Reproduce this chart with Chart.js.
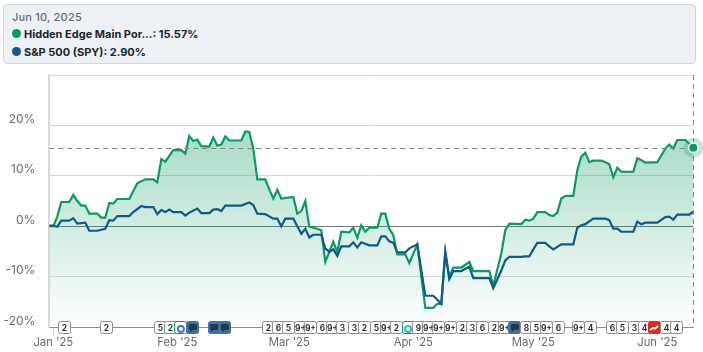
<!DOCTYPE html>
<html>
<head>
<meta charset="utf-8">
<script src="https://cdn.jsdelivr.net/npm/chart.js@4"></script>
<style>
  html,body{margin:0;padding:0;background:#fff;font-family:Inter,sans-serif}
  #wrap{position:relative;width:703px;height:352px;overflow:hidden}
  #head{position:absolute;left:3px;top:4px;width:691px;height:58px;background:#edf1f5;border:1px solid #cfd6dc;border-radius:4px}
  #head div{position:absolute;left:20px;font-size:11px;font-weight:700;color:#20262c;white-space:nowrap;line-height:14px}
  #head .date{left:8px;top:5px;font-size:11px;font-weight:500;color:#666c72;letter-spacing:.2px}
  #head i{position:absolute;left:-12px;top:2px;width:9px;height:9px;border-radius:50%}
</style>
</head>
<body>
<div id="wrap">
  <canvas id="chart"></canvas>
  <div id="head">
    <div class="date">Jun 10, 2025</div>
    <div style="top:22px"><i style="background:#0a9a62"></i>Hidden Edge Main Por...: 15.57%</div>
    <div style="top:40px"><i style="background:#11598a"></i>S&amp;P 500 (SPY): 2.90%</div>
  </div>
</div>
<script>
// values, x = days since Dec 31 2024
const fundDays = [0,1,2,3,5,6,7,8,9,10,12,13,14,15,16,17,20,22,24,26,27,28,29,31,33,34,35,36,37,38,40,41,42,43,44,45,48,49,50,51,52,54,55,56,57,58,61,62,63,64,65,67,68,69,71,72,73,75,76,77,78,79,80,82,83,84,85,86,87,89,90,92,94,96,97,98,99,100,101,103,105,106,110,111,113,114,115,118,119,120,121,122,124,125,126,127,128,129,131,132,133,134,135,136,138,139,140,141,142,143,146,147,148,149,152,154,155,156,157,159,161];
const fundVals = [0,0,1.9,4.8,4.8,6.2,5,4.1,4.1,2.5,2.5,1.7,1.7,4.6,4.5,5.4,5.4,8.5,9.3,9.3,8.7,13.3,12.8,15.1,15.1,14.4,17.9,16.9,17.2,15.9,15.8,17.6,16,16.2,17.8,17,17,18.8,18.7,15.4,9.3,9.3,7.3,5.5,7.2,5.5,5.8,2.5,3,5,-0.1,-0.5,-0.8,-7.1,-3.1,-5.1,-1.1,-1.2,-0.3,-2.3,0.2,-1.1,-0.3,-0.3,2.5,2.5,-0.5,-1.8,-5.6,-5.6,-7.3,-3.6,-16.2,-16.2,-15.4,-15.4,-5.1,-10.1,-8.2,-8.2,-7.1,-8.9,-8.9,-11.8,-5.4,-0.8,0.5,0.4,1.3,1.1,1.5,2.8,2.8,2.2,2,2.7,5.5,6,6,11.1,13.8,14.6,12.7,13,13,12.7,12.3,9.7,11.6,10.8,10.8,13.5,13.1,12.6,12.7,15.4,16.2,15.4,17.1,17.1,15.57];
const spyDays = [0,1,2,3,5,6,7,9,10,12,14,15,16,17,20,21,23,24,26,27,28,29,30,31,33,34,35,37,38,40,41,42,43,44,48,50,51,52,54,56,57,58,59,61,63,64,65,66,68,69,70,71,72,73,75,76,77,78,80,82,83,84,85,86,87,89,90,92,94,96,98,99,100,101,103,105,106,110,111,113,114,115,118,119,120,121,122,124,125,126,128,131,132,133,134,136,139,140,141,142,143,146,147,148,149,152,154,155,156,157,160,161];
const spyVals = [0.1,0.1,-0.1,1.1,1.1,1.6,0.5,0.7,-0.9,-0.9,-0.5,1.2,1.1,2,2,2.8,4,3.8,3.8,2.4,3.2,2.8,3.3,2.8,2.8,2.1,2.7,3.5,2.6,2.6,3.3,3.4,3,4.1,4.1,4.7,4.2,2.5,2.4,1.5,1.5,0,1.5,1.5,-1.5,-0.5,-2.2,-1.7,-1.7,-4.4,-5.1,-4.6,-5.9,-4,-4,-3.2,-4.2,-3.2,-3.8,-3.8,-2,-2,-3,-3.3,-5.2,-5.2,-4.4,-3.6,-13.8,-13.8,-15.4,-5.1,-10.5,-8.9,-8.9,-8,-10.3,-10.3,-12.3,-8.8,-6.8,-6.1,-6.1,-6,-6,-4.6,-3.3,-3.3,-4,-4.6,-3.6,-3.6,-0.3,0.2,0.4,1.5,1.5,1.2,-0.5,-0.5,-1.1,-1.1,0.9,0.4,0.7,0.7,1.8,1.9,1.3,2.3,2.3,2.9];
const monthDays = [1,32,60,91,121,152];
const monthLabels = ["Jan '25","Feb '25","Mar '25","Apr '25","May '25","Jun '25"];
const eventDays = [3.7,14.4,27.9,30.4,32.9,35.9,41.2,43.9,54.7,57.4,59.9,62.7,65.4,68.2,70.7,73.4,76.2,78.9,81.7,84.2,86.9,89.7,92.4,94.9,97.4,100.2,103.2,105.9,108.4,111.2,113.7,116.4,119.2,121.9,124.4,127.4,132.4,135.4,140.7,143.4,146.2,148.9,151.2,154.2,156.9];
const eventLabels = ['2','2','5','2','ring','chat','chat','chat','2','6','5','9+','9+','6','9+','3','3','2','5','9+','2','ringteal','9','9+','9+','9+','2','3','6','2','9+','chat','8','5','9+','6','9+','4','6','5','3','4','red','4','4'];
const lastDay = 161, lastFund = 15.57;

const GREEN = '#0a9a62', BLUE = '#11598a';

function xy(days, vals){ return days.map((d,i)=>({x:d,y:vals[i]})); }

function drawBox(ctx, px, y, label){
  const w = 13, h = 13, x = Math.round(px - w/2);
  let fill = '#fff', stroke = '#8b8b8b';
  if (label==='chat'){ fill = '#41719f'; stroke = '#41719f'; }
  if (label==='red'){ fill = '#e2281b'; stroke = '#e2281b'; }
  if (label==='ring' || label==='ringteal'){ stroke = GREEN; }
  ctx.beginPath();
  ctx.roundRect(x+.5, y+.5, w-1, h-1, 2);
  ctx.fillStyle = fill; ctx.fill();
  ctx.lineWidth = 1; ctx.strokeStyle = stroke; ctx.stroke();
  if (label==='chat'){
    ctx.fillStyle = '#24384c';
    ctx.beginPath();
    ctx.roundRect(px-4, y+3, 8, 6, 1);
    ctx.moveTo(px-3, y+9); ctx.lineTo(px-3, y+11); ctx.lineTo(px, y+9);
    ctx.fill();
  } else if (label==='red'){
    ctx.strokeStyle = '#fff'; ctx.lineWidth = 2;
    ctx.beginPath();
    ctx.moveTo(px-4, y+9); ctx.lineTo(px-1, y+7); ctx.lineTo(px+1, y+7.5); ctx.lineTo(px+4, y+5);
    ctx.stroke();
  } else if (label==='ring' || label==='ringteal'){
    ctx.strokeStyle = label==='ring' ? '#3f74d8' : '#35b7c4'; ctx.lineWidth = 2;
    ctx.beginPath(); ctx.arc(px, y+8, 3, 0, Math.PI*2); ctx.stroke();
  } else {
    ctx.fillStyle = '#222'; ctx.font = '600 8.5px Inter';
    ctx.textAlign = 'center'; ctx.textBaseline = 'middle';
    ctx.fillText(label, x+6.5, y+7);
  }
}

const overlay = {
  id:'overlay',
  afterDatasetsDraw(chart){
    const {ctx, chartArea:a, scales:{x,y}} = chart;
    const px = x.getPixelForValue(lastDay), py = y.getPixelForValue(lastFund);
    ctx.save();
    // crosshair
    ctx.strokeStyle = '#858585'; ctx.lineWidth = 1; ctx.setLineDash([5,4]);
    ctx.beginPath(); ctx.moveTo(a.left, Math.round(py)+.5); ctx.lineTo(a.right, Math.round(py)+.5); ctx.stroke();
    ctx.beginPath(); ctx.moveTo(Math.round(px)+.5, a.top); ctx.lineTo(Math.round(px)+.5, a.bottom); ctx.stroke();
    ctx.setLineDash([]);
    // end marker
    ctx.fillStyle = 'rgba(10,154,98,.25)';
    ctx.beginPath(); ctx.arc(px, py, 10, 0, Math.PI*2); ctx.fill();
    ctx.fillStyle = '#fff';
    ctx.beginPath(); ctx.arc(px, py, 5.5, 0, Math.PI*2); ctx.fill();
    ctx.fillStyle = GREEN;
    ctx.beginPath(); ctx.arc(px, py, 4, 0, Math.PI*2); ctx.fill();
    // event flags on the axis
    const by = Math.round(a.bottom) - 6;
    eventDays.forEach((d,i)=>drawBox(ctx, x.getPixelForValue(d), by, eventLabels[i]));
    ctx.restore();
  }
};

new Chart(document.getElementById('chart'), {
  type:'line',
  data:{datasets:[
    {label:'S&P 500 (SPY)', data:xy(spyDays,spyVals), borderColor:BLUE, borderWidth:2.2, pointRadius:0, tension:0, fill:false},
    {label:'Hidden Edge Main Portfolio', data:xy(fundDays,fundVals), borderColor:GREEN, borderWidth:2.2, pointRadius:0, tension:0, fill:'start',
      backgroundColor:c=>{
        const {ctx, chartArea:a, scales} = c.chart;
        if (!a) return 'transparent';
        const g = ctx.createLinearGradient(0, scales.y.getPixelForValue(18), 0, a.bottom);
        g.addColorStop(0,'rgba(10,154,98,.35)');
        g.addColorStop(1,'rgba(10,154,98,0)');
        return g;
      }}
  ]},
  options:{
    responsive:true, maintainAspectRatio:false, animation:false,
    layout:{padding:{top:75,right:9.7,left:0,bottom:0}},
    plugins:{legend:{display:false},tooltip:{enabled:false}},
    scales:{
      x:{type:'linear',min:0,max:lastDay,
        afterFit:s=>{s.height=25;},
        afterBuildTicks:s=>{s.ticks=monthDays.map(v=>({value:v}));},
        grid:{drawOnChartArea:false,tickLength:9,tickColor:'#cbd8ea'},
        border:{color:'#8b8b8b',width:1},
        ticks:{autoSkip:false,maxRotation:0,padding:0,color:'#6a6a6a',font:{family:'Inter',size:11.3},
          callback:v=>monthLabels[monthDays.indexOf(v)]}
      },
      y:{min:-20,max:30,
        afterFit:s=>{s.width=49.3;},
        grid:{drawTicks:false,lineWidth:1,color:c=>c.tick.value===0?'#6f7b77':'#d8d8d8'},
        border:{color:'#d8d8d8',width:2},
        ticks:{stepSize:10,padding:14,labelOffset:-6,color:'#6a6a6a',font:{family:'Inter',size:12},
          callback:v=>v===30?'':v+'%'}
      }
    }
  },
  plugins:[overlay]
});
</script>
</body>
</html>
